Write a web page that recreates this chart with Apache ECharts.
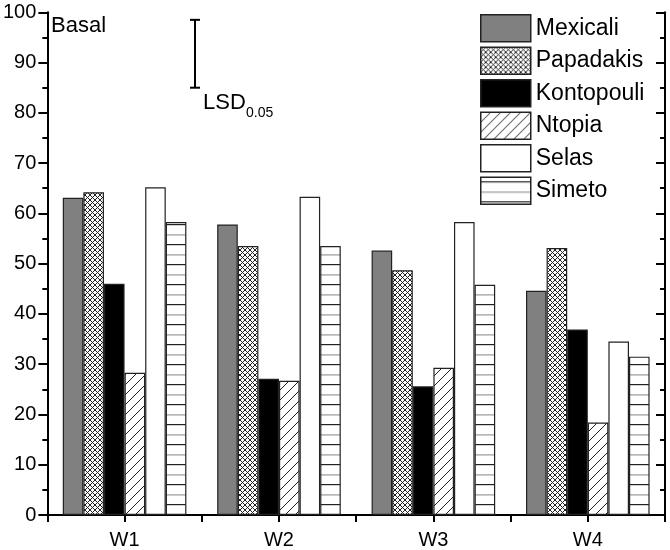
<!DOCTYPE html>
<html>
<head>
<meta charset="utf-8">
<script src="https://cdn.jsdelivr.net/npm/echarts@6/dist/echarts.min.js"></script>
<style>
html,body{margin:0;padding:0;background:#fff;}
#c{width:670px;height:550px;}
</style>
</head>
<body>
<div id="c"></div>
<script>
// ---- data ----
const categories = ['W1', 'W2', 'W3', 'W4'];
const seriesNames = ['Mexicali', 'Papadakis', 'Kontopouli', 'Ntopia', 'Selas', 'Simeto'];
const mexicali   = [63.1, 57.8, 52.6, 44.6];
const papadakis  = [64.2, 53.5, 48.7, 53.1];
const kontopouli = [46.0, 27.1, 25.6, 36.9];
const ntopia     = [28.3, 26.7, 29.3, 18.4];
const selas      = [65.2, 63.3, 58.3, 34.5];
const simeto     = [58.3, 53.5, 45.8, 31.5];
const yTicks = [0, 10, 20, 30, 40, 50, 60, 70, 80, 90, 100];
const lsdTop = 98.5;
const lsdBottom = 85.0;
const panelLabel = 'Basal';

// ---- patterns ----
function makeCanvas(w, h, draw) {
  const c = document.createElement('canvas');
  c.width = w; c.height = h;
  const ctx = c.getContext('2d');
  ctx.fillStyle = '#fff';
  ctx.fillRect(0, 0, w, h);
  draw(ctx, w, h);
  return c;
}
const crossPat = makeCanvas(5, 5, (ctx, w, h) => {
  ctx.strokeStyle = '#222';
  ctx.lineWidth = 1;
  ctx.beginPath();
  ctx.moveTo(0, 0); ctx.lineTo(w, h);
  ctx.moveTo(w, 0); ctx.lineTo(0, h);
  ctx.stroke();
});
const diagPat = makeCanvas(10, 10, (ctx, w, h) => {
  ctx.strokeStyle = '#222';
  ctx.lineWidth = 1;
  ctx.beginPath();
  ctx.moveTo(-1, h + 1); ctx.lineTo(w + 1, -1);
  ctx.moveTo(-1, 1); ctx.lineTo(1, -1);
  ctx.moveTo(w - 1, h + 1); ctx.lineTo(w + 1, h - 1);
  ctx.stroke();
});
const horizPat = makeCanvas(4, 20.6, (ctx, w, h) => {
  ctx.fillStyle = '#222';
  ctx.fillRect(0, 4, w, 1.2);
  ctx.fillStyle = '#999';
  ctx.fillRect(0, 14.3, w, 1.2);
});

const fills = [
  '#808080',
  { image: crossPat, repeat: 'repeat' },
  '#000000',
  { image: diagPat, repeat: 'repeat' },
  '#ffffff',
  { image: horizPat, repeat: 'repeat' }
];
const values = [mexicali, papadakis, kontopouli, ntopia, selas, simeto];

const FONT = 'Liberation Sans, Arial, sans-serif';

const chart = echarts.init(document.getElementById('c'), null, { renderer: 'canvas' });

const grid = { left: 43, right: 5, top: 12.3, bottom: 34.7 };

const option = {
  animation: false,
  backgroundColor: '#fff',
  grid: grid,
  legend: {
    orient: 'vertical',
    left: 480,
    top: 14,
    padding: 0,
    itemWidth: 50,
    itemHeight: 27,
    itemGap: 4,
    data: seriesNames,
    icon: 'rect',
    itemStyle: { borderColor: '#222', borderWidth: 1.5 },
    textStyle: { fontFamily: FONT, fontSize: 23, color: '#000' }
  },
  xAxis: [{
    type: 'category',
    data: categories,
    position: 'bottom',
    axisLine: { lineStyle: { color: '#000', width: 2 } },
    axisTick: { show: true, length: 7, lineStyle: { color: '#000', width: 2 } },
    axisLabel: { fontFamily: FONT, fontSize: 20, color: '#000', margin: 15 },
    splitLine: { show: false }
  }, {
    type: 'category',
    data: categories,
    position: 'bottom',
    offset: 0,
    axisLine: { show: false },
    axisTick: { show: true, alignWithLabel: true, length: 7, lineStyle: { color: '#000', width: 2 } },
    axisLabel: { show: false },
    splitLine: { show: false }
  }],
  yAxis: [{
    type: 'value',
    min: yTicks[0],
    max: yTicks[yTicks.length - 1],
    interval: yTicks[1] - yTicks[0],
    position: 'left',
    axisLine: { show: true, lineStyle: { color: '#000', width: 2 } },
    axisTick: { show: true, length: 9, lineStyle: { color: '#000', width: 2 } },
    minorTick: { show: true, splitNumber: 2, length: 5, lineStyle: { color: '#000', width: 2 } },
    axisLabel: { fontFamily: FONT, fontSize: 20, color: '#000', margin: 11 },
    splitLine: { show: false }
  }, {
    type: 'value',
    min: yTicks[0],
    max: yTicks[yTicks.length - 1],
    interval: yTicks[1] - yTicks[0],
    position: 'right',
    axisLine: { show: true, lineStyle: { color: '#000', width: 2 } },
    axisTick: { show: true, inside: true, length: 9, lineStyle: { color: '#000', width: 2 } },
    minorTick: { show: true, splitNumber: 2, length: 5, lineStyle: { color: '#000', width: 2 } },
    axisLabel: { show: false },
    splitLine: { show: false }
  }],
  series: seriesNames.map((name, i) => ({
    name: name,
    type: 'bar',
    xAxisIndex: 0,
    yAxisIndex: 0,
    data: values[i],
    barWidth: 20.6,
    barGap: '0%',
    itemStyle: { color: fills[i], borderColor: '#222', borderWidth: 1.2 }
  }))
};
chart.setOption(option);

// LSD bar and panel label
const yTop = chart.convertToPixel({ yAxisIndex: 0 }, lsdTop);
const yBot = chart.convertToPixel({ yAxisIndex: 0 }, lsdBottom);
const lsdX = 195;
chart.setOption({
  graphic: [
    { type: 'line', shape: { x1: lsdX, y1: yTop, x2: lsdX, y2: yBot }, style: { stroke: '#000', lineWidth: 2 } },
    { type: 'line', shape: { x1: lsdX - 5, y1: yTop, x2: lsdX + 5, y2: yTop }, style: { stroke: '#000', lineWidth: 2 } },
    { type: 'line', shape: { x1: lsdX - 5, y1: yBot, x2: lsdX + 5, y2: yBot }, style: { stroke: '#000', lineWidth: 2 } },
    { type: 'text', x: 203, y: yBot + 4, style: { text: 'LSD', font: '22px ' + FONT, fill: '#000', textVerticalAlign: 'top' } },
    { type: 'text', x: 246, y: yBot + 18, style: { text: '0.05', font: '14px ' + FONT, fill: '#000', textVerticalAlign: 'top' } },
    { type: 'text', x: 51, y: 15, style: { text: panelLabel, font: '22px ' + FONT, fill: '#000', textVerticalAlign: 'top' } }
  ]
});
</script>
</body>
</html>
